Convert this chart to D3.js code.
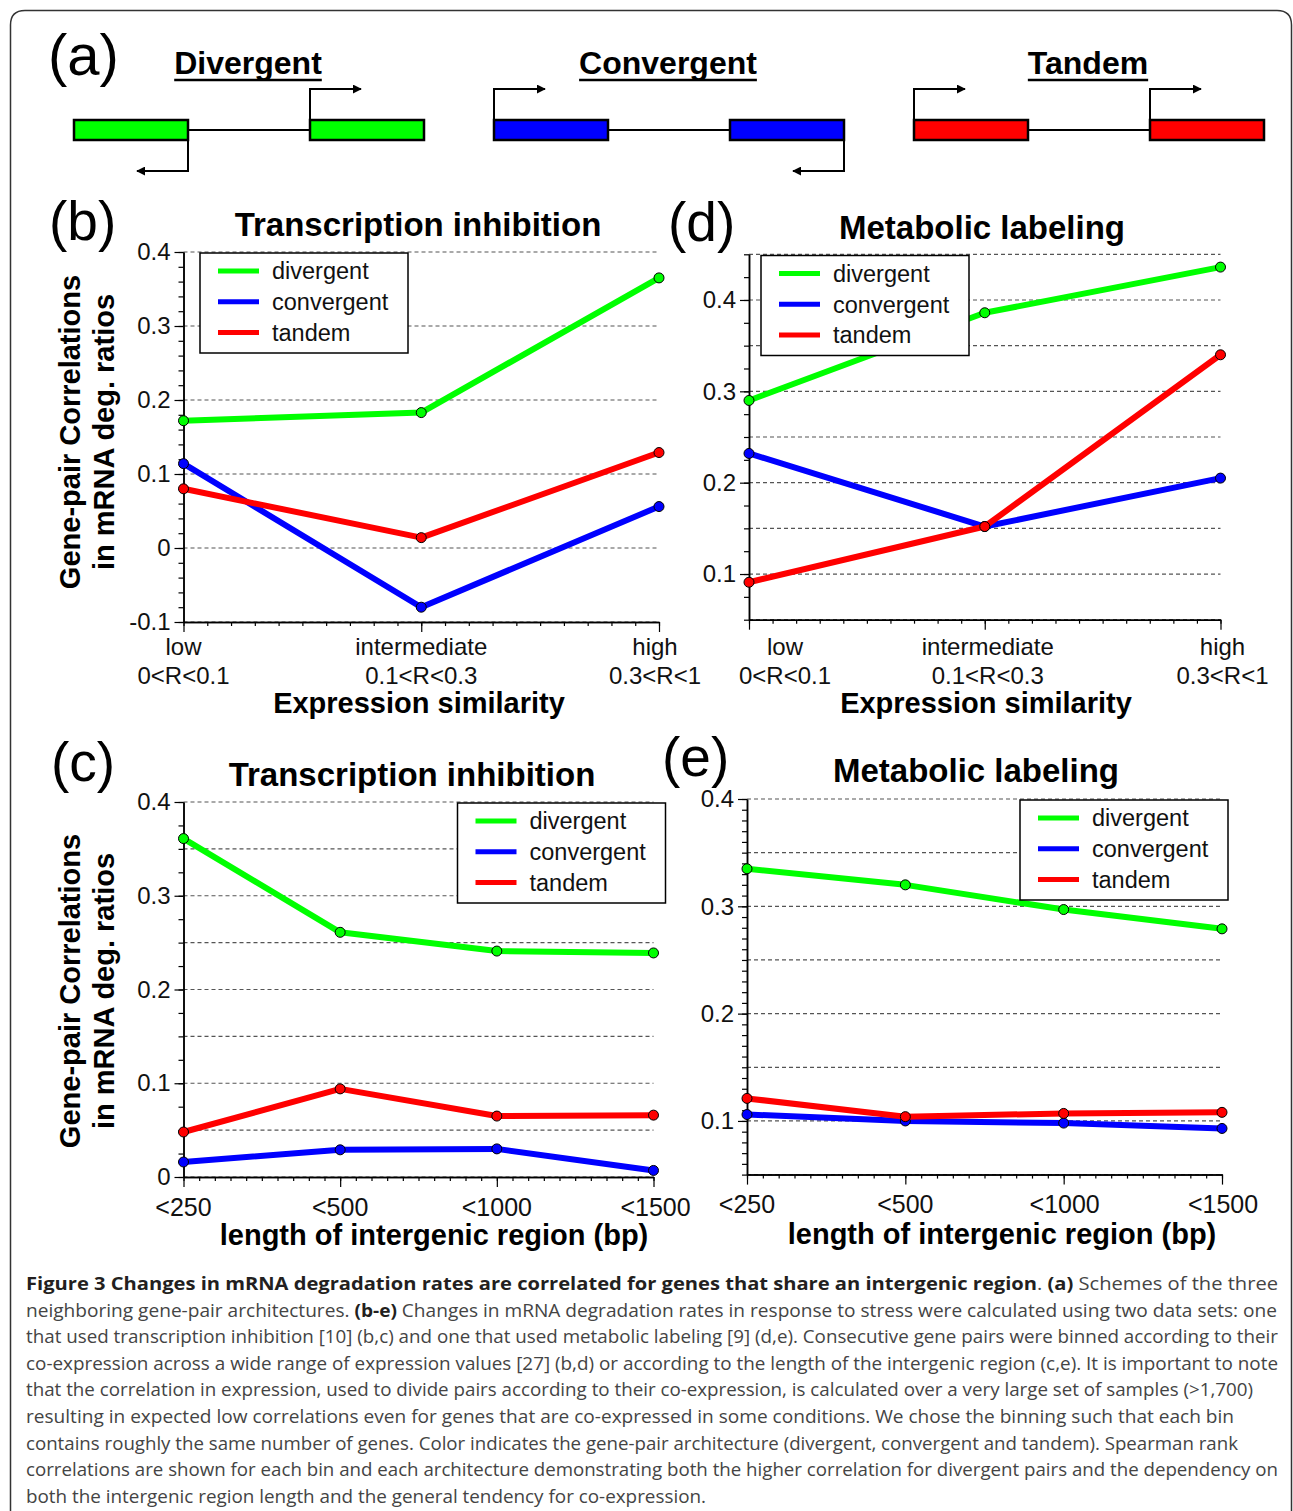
<!DOCTYPE html>
<html>
<head>
<meta charset="utf-8">
<script src="https://cdn.jsdelivr.net/npm/d3@7"></script>
<style>
	body { margin: 0; background: #fff; }
	svg { display: block; font-family: "Liberation Sans", Arial, Helvetica, sans-serif; }
</style>
</head>
<body>
<svg id="fig" width="1293" height="1511"></svg>
<script>
(function(){
	'use strict';

	// ---- data ----
	var series = ["divergent", "convergent", "tandem"];
	var archNames = ["Divergent", "Convergent", "Tandem"];
	var simLabels = ["low", "intermediate", "high"];
	var simRanges = ["0<R<0.1", "0.1<R<0.3", "0.3<R<1"];
	var lenLabels = ["<250", "<500", "<1000", "<1500"];

	// (b) transcription inhibition, by expression similarity
	var tiSimDivergent = [0.172, 0.183, 0.365];
	var tiSimConvergent = [0.114, -0.080, 0.056];
	var tiSimTandem = [0.080, 0.014, 0.129];
	// (d) metabolic labeling, by expression similarity
	var mlSimDivergent = [0.290, 0.386, 0.436];
	var mlSimConvergent = [0.232, 0.152, 0.205];
	var mlSimTandem = [0.091, 0.152, 0.340];
	// (c) transcription inhibition, by intergenic length
	var tiLenDivergent = [0.361, 0.261, 0.241, 0.239];
	var tiLenConvergent = [0.016, 0.029, 0.030, 0.007];
	var tiLenTandem = [0.048, 0.094, 0.065, 0.066];
	// (e) metabolic labeling, by intergenic length
	var mlLenDivergent = [0.335, 0.320, 0.297, 0.279];
	var mlLenConvergent = [0.106, 0.100, 0.098, 0.093];
	var mlLenTandem = [0.121, 0.104, 0.107, 0.108];

	// y tick labels
	var yTicksB = [-0.1, 0, 0.1, 0.2, 0.3, 0.4];
	var yTicksD = [0.1, 0.2, 0.3, 0.4];
	var yTicksC = [0, 0.1, 0.2, 0.3, 0.4];
	var yTicksE = [0.1, 0.2, 0.3, 0.4];

	var captionLines = [
		[["Figure 3 Changes in mRNA degradation rates are correlated for genes that share an intergenic region", 1], [". ", 0], ["(a)", 1], [" Schemes of the three", 0]],
		[["neighboring gene-pair architectures. ", 0], ["(b-e)", 1], [" Changes in mRNA degradation rates in response to stress were calculated using two data sets: one", 0]],
		[["that used transcription inhibition [10] (b,c) and one that used metabolic labeling [9] (d,e). Consecutive gene pairs were binned according to their", 0]],
		[["co-expression across a wide range of expression values [27] (b,d) or according to the length of the intergenic region (c,e). It is important to note", 0]],
		[["that the correlation in expression, used to divide pairs according to their co-expression, is calculated over a very large set of samples (>1,700)", 0]],
		[["resulting in expected low correlations even for genes that are co-expressed in some conditions. We chose the binning such that each bin", 0]],
		[["contains roughly the same number of genes. Color indicates the gene-pair architecture (divergent, convergent and tandem). Spearman rank", 0]],
		[["correlations are shown for each bin and each architecture demonstrating both the higher correlation for divergent pairs and the dependency on", 0]],
		[["both the intergenic region length and the general tendency for co-expression.", 0]]
	];
	// right end of each caption line in the original
	var captionEnds = [1278, 1277, 1278, 1278, 1253, 1234, 1238, 1278, 706];

	var color = d3.scaleOrdinal().domain(series).range(["#00ff00", "#0000ff", "#ff0000"]);

	var svg = d3.select("#fig");

	// outer frame, open at the bottom
	svg.append("path")
		.attr("d", "M10.5,1511 V25 Q10.5,10.5 25,10.5 H1277 Q1291.5,10.5 1291.5,25 V1511")
		.attr("fill", "none").attr("stroke", "#333").attr("stroke-width", 1.5);

	// ---- panel (a): gene pair schemes ----
	svg.append("defs").append("marker")
		.attr("id", "arrow").attr("viewBox", "0 0 10 10")
		.attr("refX", 9).attr("refY", 5)
		.attr("markerWidth", 4.5).attr("markerHeight", 4.5)
		.attr("orient", "auto")
		.append("path").attr("d", "M0,0 L10,5 L0,10 z").attr("fill", "#000");

	svg.append("text").attr("x", 48).attr("y", 75)
		.attr("font-size", 58).text("(a)");

	var schemeX = [74, 494, 914];
	var schemeColors = ["#00ff00", "#0000ff", "#ff0000"];
	// promoters: [position within pair, direction]
	var promoters = [
		[[114, -1], [236, 1]],
		[[0, 1], [350, -1]],
		[[0, 1], [236, 1]]
	];

	archNames.forEach(function(name, i){
		var gx = schemeX[i];
		var g = svg.append("g").attr("transform", "translate(" + gx + ",0)");

		var t = g.append("text").attr("x", 174).attr("y", 74)
			.attr("text-anchor", "middle").attr("font-size", 32).attr("font-weight", "bold")
			.text(name);
		var tw = t.node().getComputedTextLength();
		g.append("line").attr("x1", 174 - tw / 2).attr("x2", 174 + tw / 2)
			.attr("y1", 80).attr("y2", 80).attr("stroke", "#000").attr("stroke-width", 2.5);

		g.append("line").attr("x1", 114).attr("x2", 236).attr("y1", 130).attr("y2", 130)
			.attr("stroke", "#000").attr("stroke-width", 2);

		[0, 236].forEach(function(bx){
			g.append("rect").attr("x", bx).attr("y", 120).attr("width", 114).attr("height", 20)
				.attr("fill", schemeColors[i]).attr("stroke", "#000").attr("stroke-width", 2.5);
		});

		promoters[i].forEach(function(p){
			var px = p[0], dir = p[1];
			var y0 = dir > 0 ? 120 : 140, y1 = dir > 0 ? 89 : 171;
			g.append("path")
				.attr("d", "M" + px + "," + y0 + " V" + y1 + " H" + (px + dir * 51))
				.attr("fill", "none").attr("stroke", "#000").attr("stroke-width", 2)
				.attr("marker-end", "url(#arrow)");
		});
	});

	// ---- line panels ----
	function stepValues(domain, step){
		var lo = Math.round(domain[0] / step), hi = Math.round(domain[1] / step);
		return d3.range(lo, hi + 1).map(function(k){ return +(k * step).toFixed(4); });
	}

	function fmt(v){ return v === 0 ? "0" : v.toFixed(1); }

	function drawPanel(cfg){
		var n = cfg.cats.length;
		var g = svg.append("g");

		var x = d3.scaleLinear().domain([0, n - 1]).range([cfg.left, cfg.right]);
		var y = d3.scaleLinear().domain(cfg.yDomain).range([cfg.bottom, cfg.top]);

		// panel letter and title
		g.append("text").attr("x", cfg.letterX).attr("y", cfg.letterY)
			.attr("font-size", 55).text(cfg.letter);
		g.append("text").attr("x", cfg.titleX).attr("y", cfg.titleY)
			.attr("text-anchor", "middle").attr("font-size", 33).attr("font-weight", "bold")
			.text(cfg.title);

		// dashed grid
		g.append("g").selectAll("line")
			.data(stepValues(cfg.yDomain, cfg.grid))
			.enter().append("line")
				.attr("x1", cfg.left).attr("x2", cfg.right)
				.attr("y1", function(d){ return y(d); }).attr("y2", function(d){ return y(d); })
				.attr("stroke", "#555").attr("stroke-width", 1.2).attr("stroke-dasharray", "4,3");

		// y axis
		g.append("g").attr("transform", "translate(" + cfg.left + ",0)")
			.call(d3.axisLeft(y).tickValues(stepValues(cfg.yDomain, cfg.minor)).tickSize(5).tickSizeOuter(0).tickFormat(""));
		var ya = g.append("g").attr("transform", "translate(" + cfg.left + ",0)")
			.call(d3.axisLeft(y).tickValues(cfg.yTicks).tickSize(9).tickSizeOuter(0).tickPadding(4).tickFormat(fmt));
		ya.attr("font-family", null).attr("font-size", 24);
		ya.selectAll("text").attr("fill", "#111");

		// x axis
		var xMinor = d3.range(0, (n - 1) * 10 + 1).map(function(k){ return k / 10; });
		g.append("g").attr("transform", "translate(0," + cfg.bottom + ")")
			.call(d3.axisBottom(x).tickValues(xMinor).tickSize(4).tickSizeOuter(0).tickFormat(""));
		g.append("g").attr("transform", "translate(0," + cfg.bottom + ")")
			.call(d3.axisBottom(x).tickValues(d3.range(n)).tickSize(10).tickSizeOuter(0).tickFormat(""));

		g.selectAll(".domain").attr("stroke", "#000").attr("stroke-width", 1.5);
		g.selectAll(".tick line").attr("stroke", "#000").attr("stroke-width", 1.2);

		// category labels
		cfg.cats.forEach(function(c, i){
			var dx = cfg.catDx ? cfg.catDx[i] : 0;
			g.append("text").attr("x", x(i) + dx).attr("y", cfg.catY)
				.attr("text-anchor", "middle").attr("font-size", cfg.catSize).attr("fill", "#111")
				.text(c);
			if(cfg.sub){
				g.append("text").attr("x", x(i) + dx).attr("y", cfg.catY + 29)
					.attr("text-anchor", "middle").attr("font-size", cfg.catSize).attr("fill", "#111")
					.text(cfg.sub[i]);
			}
		});

		g.append("text").attr("x", cfg.xTitleX).attr("y", cfg.xTitleY)
			.attr("text-anchor", "middle").attr("font-size", 29).attr("font-weight", "bold")
			.text(cfg.xTitle);

		if(cfg.yTitle){
			cfg.yTitle.forEach(function(line, i){
				g.append("text")
					.attr("transform", "translate(" + (80 + i * 34) + "," + cfg.yTitleY + ") rotate(-90)")
					.attr("text-anchor", "middle").attr("font-size", 29).attr("font-weight", "bold")
					.text(line);
			});
		}

		// series
		var line = d3.line()
			.x(function(d, i){ return x(i); })
			.y(function(d){ return y(d); });

		series.forEach(function(s, k){
			var vals = cfg.values[k];
			g.append("path").datum(vals)
				.attr("d", line)
				.attr("fill", "none").attr("stroke", color(s))
				.attr("stroke-width", 6).attr("stroke-linejoin", "round");
			g.append("g").selectAll("circle")
				.data(vals)
				.enter().append("circle")
					.attr("cx", function(d, i){ return x(i); })
					.attr("cy", function(d){ return y(d); })
					.attr("r", 5)
					.attr("fill", color(s)).attr("stroke", "#000").attr("stroke-width", 1);
		});

		// legend
		var leg = g.append("g").attr("transform", "translate(" + cfg.legX + "," + cfg.legY + ")");
		leg.append("rect").attr("width", 208).attr("height", 100)
			.attr("fill", "#fff").attr("stroke", "#000").attr("stroke-width", 1.5);
		var item = leg.selectAll(".leg")
			.data(series)
			.enter().append("g")
				.attr("transform", function(d, i){ return "translate(0," + (18 + i * 30.8) + ")"; });
		item.append("line").attr("x1", 18).attr("x2", 59)
			.attr("stroke", function(d){ return color(d); }).attr("stroke-width", 5);
		item.append("text").attr("x", 72).attr("dy", "0.35em")
			.attr("font-size", 23.5).attr("fill", "#111")
			.text(function(d){ return d; });
	}

	var yTitle = ["Gene-pair Correlations", "in mRNA deg. ratios"];

	drawPanel({
		letter: "(b)", letterX: 49, letterY: 240,
		title: "Transcription inhibition", titleX: 418, titleY: 236,
		left: 183.5, right: 659, top: 252, bottom: 622,
		yDomain: [-0.1, 0.4], grid: 0.1, minor: 0.02, yTicks: yTicksB,
		cats: simLabels, sub: simRanges, catY: 655, catSize: 24, catDx: [0, 0, -4],
		xTitle: "Expression similarity", xTitleX: 419, xTitleY: 713,
		yTitle: yTitle, yTitleY: 432,
		values: [tiSimDivergent, tiSimConvergent, tiSimTandem],
		legX: 200, legY: 253
	});

	drawPanel({
		letter: "(d)", letterX: 668, letterY: 241,
		title: "Metabolic labeling", titleX: 982, titleY: 239,
		left: 749, right: 1220.5, top: 254.3, bottom: 619.7,
		yDomain: [0.05, 0.45], grid: 0.05, minor: 0.025, yTicks: yTicksD,
		cats: simLabels, sub: simRanges, catY: 655, catSize: 24, catDx: [36, 3, 2],
		xTitle: "Expression similarity", xTitleX: 986, xTitleY: 713,
		values: [mlSimDivergent, mlSimConvergent, mlSimTandem],
		legX: 761, legY: 255.5
	});

	drawPanel({
		letter: "(c)", letterX: 51, letterY: 781,
		title: "Transcription inhibition", titleX: 412, titleY: 786,
		left: 183.5, right: 653.5, top: 802, bottom: 1177,
		yDomain: [0, 0.4], grid: 0.05, minor: 0.025, yTicks: yTicksC,
		cats: lenLabels, catY: 1216, catSize: 25, catDx: [0, 0, 0, 2],
		xTitle: "length of intergenic region (bp)", xTitleX: 434, xTitleY: 1245,
		yTitle: yTitle, yTitleY: 991,
		values: [tiLenDivergent, tiLenConvergent, tiLenTandem],
		legX: 457.5, legY: 803
	});

	drawPanel({
		letter: "(e)", letterX: 662, letterY: 776,
		title: "Metabolic labeling", titleX: 976, titleY: 782,
		left: 747, right: 1222, top: 799, bottom: 1174.6,
		yDomain: [0.05, 0.4], grid: 0.05, minor: 0.01, yTicks: yTicksE,
		cats: lenLabels, catY: 1213, catSize: 25, catDx: [0, 0, 1, 1],
		xTitle: "length of intergenic region (bp)", xTitleX: 1002, xTitleY: 1244,
		values: [mlLenDivergent, mlLenConvergent, mlLenTandem],
		legX: 1020, legY: 800
	});

	// ---- caption ----
	var cap = svg.append("g")
		.attr("font-family", "'Open Sans', 'Noto Sans', sans-serif")
		.attr("font-size", 17.5);

	captionLines.forEach(function(parts, i){
		var t = cap.append("text")
			.attr("x", 26).attr("y", 1290 + i * 26.6)
			.attr("textLength", captionEnds[i] - 26)
			.attr("lengthAdjust", "spacingAndGlyphs")
			.style("white-space", "pre");
		parts.forEach(function(p){
			t.append("tspan")
				.attr("font-weight", p[1] ? "bold" : null)
				.attr("fill", p[1] ? "#231f20" : "#444")
				.text(p[0]);
		});
	});

})();
</script>
</body>
</html>
